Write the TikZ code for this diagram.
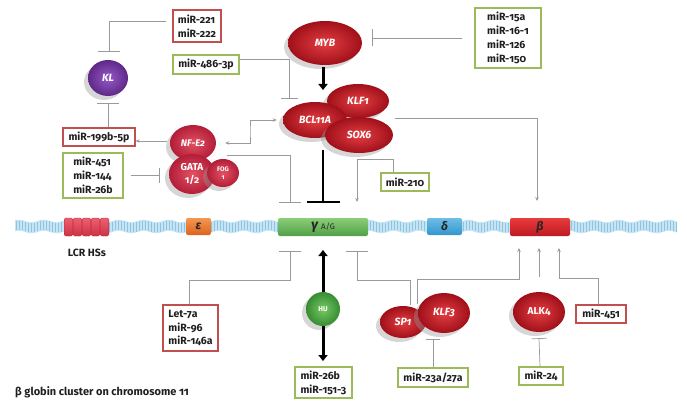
\documentclass[tikz,border=0pt]{standalone}
\usepackage{fontspec}
\setmainfont{Fira Sans}[Numbers=OldStyle]
\usetikzlibrary{arrows.meta,shadows,shapes.geometric}
\definecolor{boxred}{HTML}{C0504D}
\definecolor{boxgreen}{HTML}{9BBB59}
\definecolor{linegray}{HTML}{9A9A9A}
\definecolor{bandfill}{HTML}{C6E5F4}
\definecolor{bandline}{HTML}{8FC3E0}
\tikzset{
  mbox/.style={draw, line width=1.1pt, fill=white, inner sep=0pt, align=left,
    font=\bfseries\fontsize{10.5}{13.8}\selectfont, text=black!88},
  rbox/.style={mbox, draw=boxred},
  gbox/.style={mbox, draw=boxgreen},
  conn/.style={draw=linegray, line width=0.7pt},
  arr/.style={conn, -{Stealth[length=4pt,width=3.5pt]}},
  arrtwo/.style={conn, {Stealth[length=4pt,width=3.5pt]}-{Stealth[length=4pt,width=3.5pt]}},
  inh/.style={conn, -{Bar[width=#1]}},
  inh/.default=22pt,
  bigarr/.style={draw=black, line width=3pt, -{Triangle[length=6pt,width=9pt]}},
  biginh/.style={draw=black, line width=2.2pt, -{Bar[width=33pt]}},
  shad/.style={drop shadow={shadow xshift=-4pt, shadow yshift=-4pt, opacity=0.4, fill=black!40}},
  prot/.style={ellipse, inner sep=0pt, shad, shading=radial,
    inner color={rgb,255:red,228;green,62;blue,66}, outer color={rgb,255:red,160;green,16;blue,26},
    text=white, font=\bfseries\itshape\fontsize{10.5}{11}\selectfont},
  pink/.style={prot, inner color={rgb,255:red,228;green,80;blue,98}, outer color={rgb,255:red,178;green,30;blue,56}},
  gene/.style={rounded corners=2pt, inner sep=0pt, minimum height=17pt, text=black!85,
    font=\bfseries\itshape\fontsize{12}{12}\selectfont},
  lbl/.style={font=\bfseries\fontsize{10.5}{12}\selectfont, text=black!88, inner sep=0pt}
}
\begin{document}
\begin{tikzpicture}[x=1pt,y=-1pt]
\useasboundingbox (0,0) rectangle (687,406);
% chromosome band
\fill[bandfill] plot[domain=15:677,samples=300] (\x,{221+1.3*sin(14.4*\x)})
  -- plot[domain=677:15,samples=300] (\x,{232+1.3*sin(14.4*\x)}) -- cycle;
\foreach \i in {16,19,...,676}
  \draw[bandline, line width=0.35pt] (\i,{221.8+1.3*sin(14.4*\i)}) -- (\i,{231.2+1.3*sin(14.4*\i)});
% LCR HSs
\foreach \i in {0,1,2,3,4}
  \node[rounded corners=1.5pt, minimum width=8.6pt, minimum height=18pt, inner sep=0pt,
    draw={rgb,255:red,190;green,40;blue,60}, line width=0.4pt,
    top color={rgb,255:red,236;green,96;blue,112}, bottom color={rgb,255:red,205;green,50;blue,70}]
    (lcr\i) at ({68.5+9*\i},227) {};
\node[lbl] (lcrlbl) at (87,253) {LCR HSs};
% genes
\node[gene, minimum width=25pt, top color={rgb,255:red,244;green,150;blue,80}, bottom color={rgb,255:red,220;green,100;blue,30}] (eps) at (198.5,226.5) {ε};
\node[gene, minimum width=90pt, minimum height=18pt, top color={rgb,255:red,140;green,205;blue,120}, bottom color={rgb,255:red,80;green,160;blue,70}] (gam) at (323,227)
  {\fontsize{14}{14}\selectfont γ\hspace{3pt}{\upshape\mdseries\fontsize{8}{8}\selectfont A/G}};
\node[gene, minimum width=35pt, top color={rgb,255:red,110;green,190;blue,230}, bottom color={rgb,255:red,50;green,150;blue,205}] (del) at (444.5,226.5) {δ};
\node[gene, minimum width=60pt, minimum height=18pt, top color={rgb,255:red,232;green,60;blue,60}, bottom color={rgb,255:red,190;green,25;blue,35}] (bet) at (540,227) {β};
% miRNA boxes
\node[rbox, minimum width=48pt, minimum height=32pt] (m221) at (197,26) {miR-221\\miR-222};
\node[gbox, minimum width=66pt, minimum height=19pt] (m486) at (206,64.5) {miR-486-3p};
\node[gbox, minimum width=66pt, minimum height=60pt] (m15) at (508,38) {miR-15a\\miR-16-1\\miR-126\\miR-150};
\node[rbox, minimum width=72pt, minimum height=18pt] (m199) at (99,137) {miR-199b-5p};
\node[gbox, minimum width=60pt, minimum height=45pt] (m451a) at (93,175.5) {miR-451\\miR-144\\miR-26b};
\node[gbox, minimum width=48pt, minimum height=18pt] (m210) at (405,182) {miR-210};
\node[rbox, minimum width=55pt, minimum height=46pt] (let7) at (190.5,328) {Let-7a\\miR-96\\miR-146a};
\node[gbox, minimum width=57pt, minimum height=31pt] (m26b) at (323.5,382.5) {miR-26b\\miR-151-3};
\node[gbox, minimum width=70pt, minimum height=19pt] (m23) at (433,377.5) {miR-23a/27a};
\node[gbox, minimum width=44pt, minimum height=18pt] (m24) at (541,376) {miR-24};
\node[rbox, minimum width=50pt, minimum height=18pt] (m451b) at (601,314) {miR-451};
% proteins
\node[prot, minimum width=40pt, minimum height=36pt, inner color={rgb,255:red,150;green,90;blue,200}, outer color={rgb,255:red,95;green,40;blue,135}] (KL) at (108,78) {KL};
\node[prot, minimum width=74pt, minimum height=44pt] (MYB) at (325,43) {MYB};
\node[prot, minimum width=62pt, minimum height=34pt] (KLF1) at (358,101) {KLF1};
\node[prot, minimum width=64pt, minimum height=36pt] (BCL) at (315,120) {BCL11A};
\node[prot, minimum width=68pt, minimum height=36pt] (SOX6) at (359,135) {SOX6};
\node[pink, minimum width=46pt, minimum height=36pt, font=\bfseries\itshape\fontsize{9.5}{10}\selectfont] (NF) at (193,143) {NF-E2};
\node[pink, minimum width=46pt, minimum height=40pt, align=center, font=\bfseries\fontsize{10}{13}\selectfont] (GATA) at (192,174) {GATA\\1/2};
\node[pink, minimum width=32pt, minimum height=28pt, align=center, font=\bfseries\fontsize{6.5}{8.5}\selectfont] (FOG) at (223,173) {FOG\\1};
\node[prot, minimum width=34pt, minimum height=34pt, inner color={rgb,255:red,120;green,200;blue,100}, outer color={rgb,255:red,55;green,140;blue,50},
  font=\bfseries\fontsize{7}{7}\selectfont] (HU) at (323,309) {HU};
\node[prot, minimum width=46pt, minimum height=32pt] (SP1) at (403,322) {SP1};
\node[prot, minimum width=52pt, minimum height=40pt] (KLF3) at (444,313) {KLF3};
\node[prot, minimum width=52pt, minimum height=40pt, font=\bfseries\fontsize{10}{10}\selectfont] (ALK4) at (539,312) {ALK4};
% helper coordinates
\coordinate (klb) at (109,52);
\coordinate (klb2) at (108,103);
\coordinate (b486) at (289,99);
\coordinate (mybb) at (372,38);
\coordinate (myb1) at (323,67);
\coordinate (myb2) at (323,90);
\coordinate (cplx) at (323,150);
\coordinate (nb) at (250,131);
\coordinate (nfw) at ([yshift=2pt]NF.west);
\coordinate (gi) at (160,175.5);
\coordinate (gc) at (227,155);
\coordinate (gbar) at (290,203);
\coordinate (sox6r) at (395,118);
\coordinate (bt) at (537,201);
\coordinate (c210) at (357,159);
\coordinate (g210) at (357,202);
\coordinate (l1) at (290,280);
\coordinate (l2) at (290,251);
\coordinate (s0) at (410,305);
\coordinate (s1) at (357,280);
\coordinate (s2) at (357,251);
\coordinate (k0) at (417,304);
\coordinate (k1) at (519,279);
\coordinate (k2) at (519,248);
\coordinate (a0) at (539,277);
\coordinate (a2) at (539,248);
\coordinate (r1) at (559,278);
\coordinate (r2) at (559,248);
\coordinate (hu1) at (323,250);
\coordinate (hu2) at (323,361);
% connectors
\draw[inh, shorten <=6pt] ([yshift=5pt]m221.west) -| (klb);
\draw[inh] (KL.south |- m199.north) -- (klb2);
\draw[arr, shorten <=3pt] (nfw) -- (m199.east |- nfw);
\draw[inh=14pt, shorten <=7pt] (m451a.east) -- (gi);
\draw[inh=17pt] ([yshift=5pt]m486.east) -| (b486);
\draw[inh=17pt, shorten <=12pt] (m15.west) -- (mybb);
\draw[bigarr] (myb1) -- (myb2);
\draw[biginh] (cplx) -- (gam.north |- gbar);
\draw[arrtwo] ([xshift=9pt]NF.east) -| (nb) |- ([xshift=-6pt]BCL.west);
\draw[inh] (gc) -| (gbar);
\draw[arr] (sox6r) -| (bt);
\draw[arr] ([xshift=-12pt]m210.north) |- (c210) -- (g210);
\draw[inh] ([xshift=-1pt]let7.north) |- (l1) -- (l2);
\draw[bigarr] (HU.north) -- (hu1);
\draw[bigarr] (HU.south) -- (hu2);
\draw[inh] (s0) |- (s1) -- (s2);
\draw[arr] (k0) |- (k1) -- (k2);
\draw[arr] (a0) -- (a2);
\draw[arr] ([xshift=-3pt]m451b.north) |- (r1) -- (r2);
\draw[inh=14pt] (m23.north) -- ([yshift=-6pt]KLF3.south -| m23.north);
\draw[inh=15pt] ([xshift=-1pt]m24.north) -- ([yshift=-6pt]ALK4.south);
% caption
\node[lbl, anchor=west, font=\bfseries\fontsize{11}{12}\selectfont] (cap) at (15,392) {β globin cluster on chromosome 11};
\end{tikzpicture}
\end{document}
